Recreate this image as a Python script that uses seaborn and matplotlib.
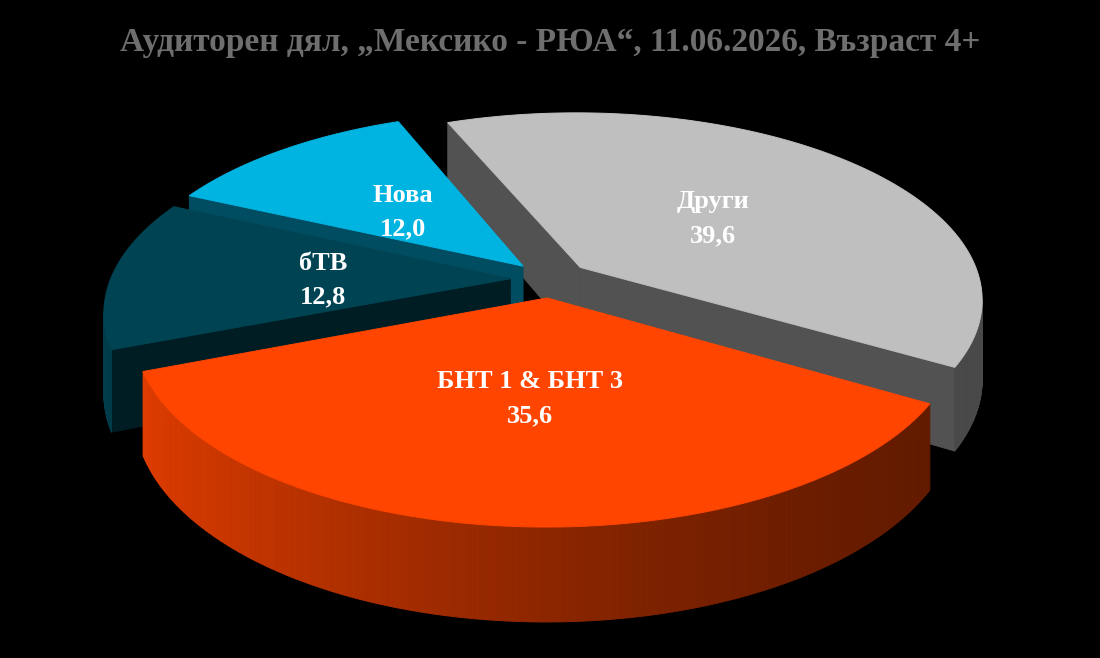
import numpy as np
import matplotlib
matplotlib.use("Agg")
import matplotlib.pyplot as plt
import matplotlib.colors as mcolors
from matplotlib.patches import Polygon
import seaborn as sns

title = "Аудиторен дял, „Мексико - РЮА“, 11.06.2026, Възраст 4+"
channels = ["Други", "БНТ 1 & БНТ 3", "бТВ", "Нова"]
shares = [39.6, 35.6, 12.8, 12.0]
slice_colors = ["#BFBFBF", "#FF4500", "#004453", "#00B4E2"]

# 3d view of the pie (fitted by eye to the reference)
start_angle = 112      # first slice starts here, goes clockwise
explode = 0.1
cam_dist = 6.0
XS, YS = 550.3, 279.3
FX, FY, FZ = 2399.0, 1104.0, 465.0


def project(x, y, z):
    q = cam_dist + y
    return XS + FX * x / q, YS - (FY * y + FZ * z) / q


def shade(color, f):
    return tuple(np.clip(np.array(mcolors.to_rgb(color)) * f, 0, 1))


def side_shade(theta):
    return 0.38 + 0.5 * ((1 + np.cos(np.radians(theta + 170))) / 2) ** 2


def visible(px, py, nx, ny):
    # face normal points towards the camera sitting at (0, -cam_dist)
    return px * nx + (py + cam_dist) * ny < 0


def face(ax, xs, ys, zs, color):
    pts = [project(x, y, z) for x, y, z in zip(xs, ys, zs)]
    ax.add_patch(Polygon(pts, closed=True, facecolor=color, edgecolor=color,
                         lw=0.7, joinstyle="round"))


sns.set_theme(style="dark", rc={"figure.facecolor": "black", "axes.facecolor": "black"})
plt.rcParams["font.family"] = ["Liberation Serif", "DejaVu Serif"]

fig = plt.figure(figsize=(11, 6.58), dpi=100)
ax = fig.add_axes([0, 0, 1, 1])
ax.set_xlim(0, 1100)
ax.set_ylim(658, 0)
ax.axis("off")

vals = np.array(shares)
spans = 360 * vals / vals.sum()
starts = start_angle - np.concatenate([[0], np.cumsum(spans)[:-1]])
ends = starts - spans
mids = (starts + ends) / 2

wedges = []
for i in range(len(vals)):
    cx = explode * np.cos(np.radians(mids[i]))
    cy = explode * np.sin(np.radians(mids[i]))
    th = np.linspace(starts[i], ends[i], int(spans[i] * 2) + 2)
    wedges.append((cx, cy, th))

# paint the slices whose far edge is further back first
order = sorted(range(len(vals)), key=lambda i: -(wedges[i][1] + np.sin(np.radians(wedges[i][2]))).max())

for i in order:
    cx, cy, th = wedges[i]
    col = slice_colors[i]
    # cut faces
    for a, sign in ((starts[i], 1), (ends[i], -1)):
        r = np.radians(a)
        nx, ny = -sign * np.sin(r), sign * np.cos(r)
        if visible(cx, cy, nx, ny):
            ex, ey = cx + np.cos(r), cy + np.sin(r)
            face(ax, [cx, ex, ex, cx], [cy, ey, ey, cy], [0, 0, -1, -1], shade(col, 0.43))
    # outer wall
    for k in range(len(th) - 1):
        tm = np.radians((th[k] + th[k + 1]) / 2)
        if not visible(cx + np.cos(tm), cy + np.sin(tm), np.cos(tm), np.sin(tm)):
            continue
        t0, t1 = np.radians(th[k]), np.radians(th[k + 1])
        xs = [cx + np.cos(t0), cx + np.cos(t1), cx + np.cos(t1), cx + np.cos(t0)]
        ys = [cy + np.sin(t0), cy + np.sin(t1), cy + np.sin(t1), cy + np.sin(t0)]
        face(ax, xs, ys, [0, 0, -1, -1], shade(col, side_shade(np.degrees(tm))))
    # top
    tr = np.radians(th)
    xs = np.concatenate([[cx], cx + np.cos(tr)])
    ys = np.concatenate([[cy], cy + np.sin(tr)])
    face(ax, xs, ys, np.zeros(len(xs)), col)

for i, name in enumerate(channels):
    cx, cy, _ = wedges[i]
    r = np.radians(mids[i])
    lx, ly = project(cx + 0.47 * np.cos(r), cy + 0.47 * np.sin(r), 0)
    ax.text(lx, ly + 4, f"{name}\n{shares[i]:.1f}".replace(".", ","), ha="center", va="center",
            color="white", fontsize=19, fontweight="bold", linespacing=1.6)

ax.text(550, 42, title, ha="center", va="center", color="#6E6E6E",
        fontsize=24, fontweight="bold")

fig.savefig("out.png", dpi=100, facecolor="black")
